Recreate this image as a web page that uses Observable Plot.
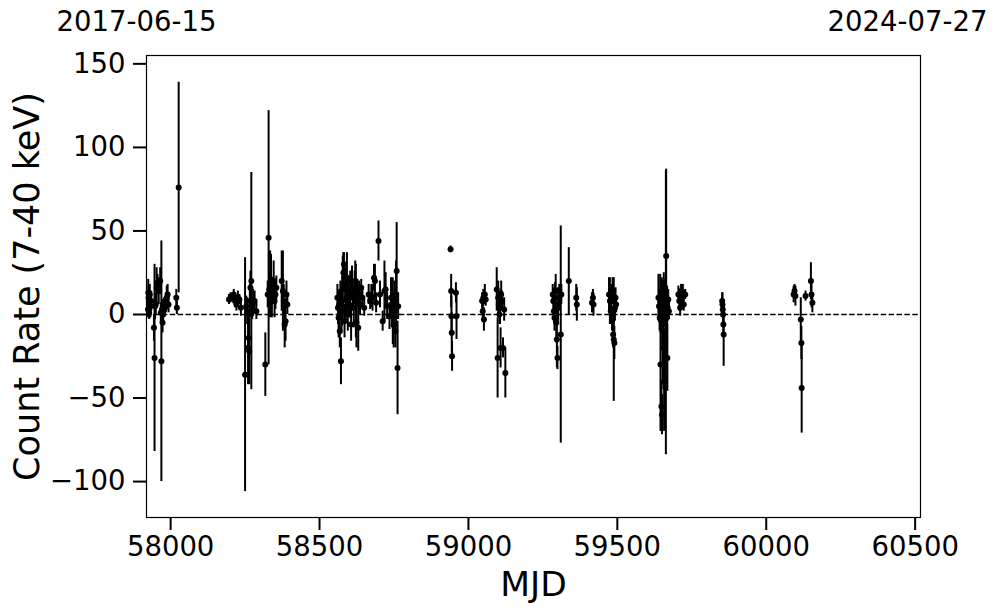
<!DOCTYPE html>
<html>
<head>
<meta charset="utf-8">
<script src="https://cdn.jsdelivr.net/npm/d3@7"></script>
<script src="https://cdn.jsdelivr.net/npm/@observablehq/plot@0.6"></script>
<style>
  html, body { margin: 0; padding: 0; background: white; }
  #chart { width: 997px; height: 613px; }
</style>
</head>
<body>
<div id="chart"></div>
<script>
// Observation epochs (MJD), count rates and 1-sigma errors
const mjd = [
  57924, 57925, 57926, 57927, 57928, 57930, 57932, 57935, 57944, 57946, 57948, 57950, 57953, 57956, 57960, 57965, 57967, 57969, 57971, 57973, 57975, 57978, 57981, 57984, 57987, 57990, 57993, 58019, 58021, 58027,
  58196, 58201, 58212, 58216, 58221, 58226, 58231, 58236,
  58250, 58254, 58257, 58260, 58262, 58264, 58266, 58268, 58271, 58274, 58277, 58282, 58288,
  58318, 58329, 58326, 58331, 58334, 58337, 58340, 58343, 58346, 58349, 58352, 58355,
  58373, 58377, 58380, 58383, 58386, 58389, 58392,
  58560, 58562, 58564, 58566, 58568, 58570, 58572, 58574, 58576, 58578, 58580, 58582, 58584, 58586, 58588, 58590, 58592, 58595, 58598, 58600, 58603, 58606, 58609, 58612, 58615, 58618, 58620, 58622, 58624, 58627, 58630, 58633, 58636, 58640, 58644, 58650,
  58665, 58670, 58674, 58678, 58683, 58686, 58690, 58698, 58703, 58712, 58718, 58722, 58727, 58735, 58740, 58743, 58746, 58749, 58752, 58755, 58757, 58759, 58762, 58764,
  58940, 58942, 58943, 58944, 58945, 58958, 58960,
  59046, 59048, 59050, 59052, 59055, 59058,
  59095, 59098, 59100, 59102, 59104, 59106, 59108, 59110, 59113, 59116, 59120, 59124,
  59283, 59285, 59287, 59289, 59291, 59293, 59295, 59297, 59299, 59301, 59305, 59310, 59312,
  59337, 59362, 59364, 59415, 59418, 59420,
  59472, 59475, 59478, 59480, 59482, 59484, 59486, 59488, 59490, 59492, 59494, 59496,
  59638, 59640, 59642, 59644, 59645, 59647, 59648, 59649, 59650, 59651, 59652, 59653, 59655, 59656, 59657, 59658, 59659, 59661, 59662, 59663, 59664, 59666, 59667, 59668, 59669, 59671, 59673,
  59705, 59708, 59711, 59714, 59717, 59720, 59723, 59728,
  59852, 59853, 59854, 59855, 59856, 59857,
  60092, 60095, 60098, 60116, 60118, 60119, 60132, 60150, 60152, 60155
];
const rate = [
  3, 13, 10, 6, 1, 12, 5, 8, -8, -26, 5, 6, 16, 19, 14, 20, 1, -28, 3, -5, 0, 5, 4, 7, 10, 12, 6, 10, 4, 76,
  9, 10, 12, 8, 6, 10, 9, 4,
  -36, 5, 2, -20, -14, -22, 8, 16, 20, 3, 7, 8, 2,
  -30, 46, 12, 15, 18, 21, 10, 14, 20, 8, 12, 16,
  20, 14, 8, -6, -4, 12, 6,
  10, 4, -2, 6, -10, 12, -28, 2, 8, 15, 25, 30, -4, 18, 5, 10, 22, 0, 14, 6, 12, -6, 20, 10, 4, 16, 20, 8, -5, 14, -8, 12, 6, 16, 10, 4,
  12, 8, 11, 10, 22, 20, 7, 44, 12, -4, 14, 15, 5, -1, 10, 6, 2, -6, 8, -10, 12, 26, -32, 5,
  39, 14, -1, -11, -25, 13, -1,
  8, 2, 10, -3, 12, 9,
  15, -26, 10, 6, 0, 4, -20, 12, 8, -20, 3, -35,
  12, 8, 2, -2, 10, 14, -5, -15, -26, 6, 10, -12, 12,
  20, 10, 6, 7, 10, 6,
  12, 8, 2, 10, -4, 14, -12, -15, -17, 4, 10, 6,
  10, 5, -2, 8, -30, 2, -55, 12, -60, 0, -10, 6, -20, 15, -40, 3, 9, -5, 11, 1, 35, -2, 7, -26, 4, 9, 2,
  12, 8, 4, 14, 10, 13, 6, 12,
  8, 6, 3, 0, -6, -12,
  12, 14, 11, -3, -17, -44, 11, 20, 12, 7
];
const err = [
  5, 8, 7, 6, 4, 6, 7, 6, 8, 56, 8, 6, 12, 5, 8, 8, 6, 72, 6, 6, 6, 5, 5, 6, 7, 6, 5, 5, 4, 63,
  3, 3, 3, 4, 4, 4, 3, 5,
  70, 6, 8, 22, 12, 20, 10, 10, 65, 6, 8, 6, 5,
  19, 76, 8, 10, 20, 15, 12, 8, 12, 10, 9, 7,
  18, 24, 10, 14, 12, 8, 6,
  8, 10, 12, 9, 10, 8, 14, 12, 15, 20, 12, 7, 10, 10, 8, 12, 15, 10, 9, 8, 14, 10, 9, 8, 12, 10, 12, 22, 15, 7, 14, 8, 6, 5, 6, 5,
  6, 5, 7, 8, 8, 10, 6, 12, 8, 6, 18, 10, 8, 8, 12, 14, 20, 14, 12, 10, 20, 29, 28, 8,
  2, 10, 12, 12, 9, 6, 14,
  5, 6, 5, 7, 6, 4,
  13, 24, 10, 8, 6, 10, 12, 8, 6, 6, 7, 15,
  6, 8, 7, 8, 9, 10, 12, 17, 7, 10, 8, 65, 6,
  20, 8, 10, 6, 5, 7,
  10, 14, 8, 8, 6, 8, 8, 37, 10, 8, 6, 5,
  14, 10, 8, 16, 40, 12, 15, 10, 12, 20, 30, 12, 25, 10, 30, 8, 12, 15, 8, 85, 52, 14, 10, 20, 8, 6, 5,
  5, 6, 5, 4, 4, 5, 4, 3,
  5, 7, 4, 6, 8, 19,
  5, 4, 6, 13, 10, 27, 3, 11, 8, 6
];
const xTicks = [58000, 58500, 59000, 59500, 60000, 60500];
const yTicks = [-100, -50, 0, 50, 100, 150];
const xDomain = [57919, 60518];
const yDomain = [-121.5, 155];
const startLabel = "2017-06-15";
const endLabel = "2024-07-27";
const xLabel = "MJD";
const yLabel = "Count Rate (7-40 keV)";

const data = mjd.map((m, i) => ({mjd: m, rate: rate[i], err: err[i]}));
const minusFmt = d => d < 0 ? "\u2212" + Math.abs(d) : String(d);

const chart = Plot.plot({
  width: 997,
  height: 613,
  marginLeft: 146,
  marginRight: 77,
  marginTop: 55,
  marginBottom: 96,
  style: {fontFamily: "DejaVu Sans", fontSize: "27.5px", color: "black", background: "white"},
  x: {domain: xDomain},
  y: {domain: yDomain},
  marks: [
    Plot.ruleY([0], {stroke: "black", strokeWidth: 1.5, strokeDasharray: "5.5,2.4"}),
    Plot.ruleX(data, {x: "mjd", y1: d => d.rate - d.err, y2: d => d.rate + d.err, stroke: "black", strokeWidth: 2}),
    Plot.dot(data, {x: "mjd", y: "rate", r: 3, fill: "black", stroke: "none"}),
    Plot.frame({stroke: "black", strokeWidth: 1.2}),
    Plot.axisX({ticks: xTicks, tickSize: 13, tickPadding: 6, strokeWidth: 2, tickFormat: d3.format("d"), label: null, fontSize: 27.5}),
    Plot.axisY({ticks: yTicks, tickSize: 13, tickPadding: 8, strokeWidth: 2, tickFormat: minusFmt, label: null, fontSize: 27.5}),
    Plot.text([xLabel], {frameAnchor: "bottom", text: d => d, dy: 67, fontSize: 34.5, lineAnchor: "middle", textAnchor: "middle", fill: "black"}),
    Plot.text([yLabel], {frameAnchor: "left", text: d => d, dx: -119, rotate: -90, fontSize: 35, lineAnchor: "middle", textAnchor: "middle", fill: "black"}),
    Plot.text([startLabel], {frameAnchor: "top-left", text: d => d, dx: -10, dy: -33, fontSize: 27.5, lineAnchor: "middle", textAnchor: "middle", fill: "black"}),
    Plot.text([endLabel], {frameAnchor: "top-right", text: d => d, dx: -13, dy: -33, fontSize: 27.5, lineAnchor: "middle", textAnchor: "middle", fill: "black"})
  ]
});
document.getElementById("chart").appendChild(chart);
</script>
</body>
</html>
